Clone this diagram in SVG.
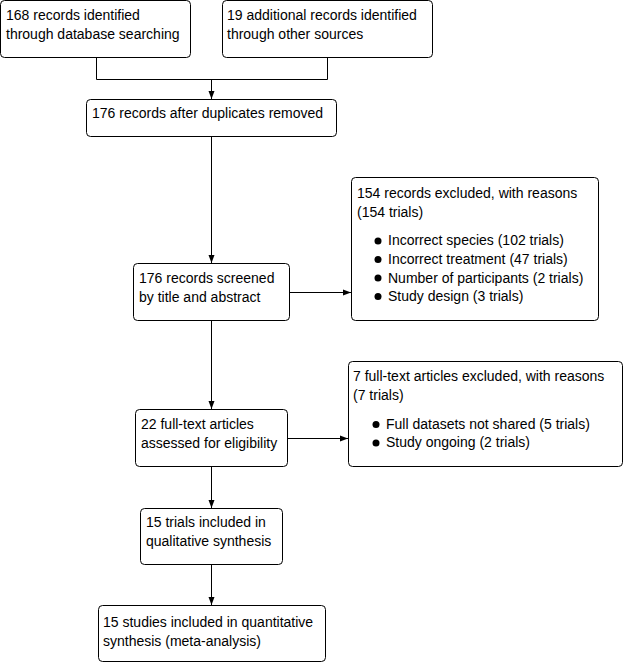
<svg xmlns="http://www.w3.org/2000/svg" width="625" height="663" viewBox="0 0 625 663">
<defs>
<marker id="arr" viewBox="0 0 8 8" refX="8" refY="4" markerWidth="8" markerHeight="8" markerUnits="userSpaceOnUse" orient="auto">
<path d="M0,1 L8,4 L0,7 Z" fill="#000"/>
</marker>
<style>
.box{fill:#fff;stroke:#000;stroke-width:1}
.t{font-family:"Liberation Sans",Arial,sans-serif;font-size:14px;fill:#000}
.c{fill:none;stroke:#000;stroke-width:1}
.b{fill:#000}
</style>
</defs>
<rect width="625" height="663" fill="#fff"/>
<g id="connectors">
<path class="c" d="M96.5,57 V79.5 H327.5 V57"/>
<path class="c" d="M211.5,79.5 V99" marker-end="url(#arr)"/>
<path class="c" d="M211.5,136 V263" marker-end="url(#arr)"/>
<path class="c" d="M289,292.5 H351" marker-end="url(#arr)"/>
<path class="c" d="M211.5,320 V409" marker-end="url(#arr)"/>
<path class="c" d="M287,438.5 H348" marker-end="url(#arr)"/>
<path class="c" d="M211.5,466 V508" marker-end="url(#arr)"/>
<path class="c" d="M211.5,564 V605" marker-end="url(#arr)"/>
</g>
<g id="n1">
<rect class="box" x="0.5" y="0.5" width="190" height="57" rx="4"/>
<text class="t" x="6" y="20">168 records identified</text>
<text class="t" x="6" y="39">through database searching</text>
</g>
<g id="n2">
<rect class="box" x="222.5" y="0.5" width="210" height="57" rx="4"/>
<text class="t" x="227" y="20">19 additional records identified</text>
<text class="t" x="227" y="39">through other sources</text>
</g>
<g id="n3">
<rect class="box" x="86.5" y="99.5" width="250" height="37" rx="4"/>
<text class="t" x="92" y="118">176 records after duplicates removed</text>
</g>
<g id="n4">
<rect class="box" x="133.5" y="263.5" width="156" height="57" rx="4"/>
<text class="t" x="139" y="283">176 records screened</text>
<text class="t" x="139" y="302">by title and abstract</text>
</g>
<g id="n5">
<rect class="box" x="351.5" y="177.5" width="247" height="143" rx="4"/>
<text class="t" x="357" y="198">154 records excluded, with reasons</text>
<text class="t" x="357" y="217">(154 trials)</text>
<circle class="b" cx="378" cy="241" r="3.5"/>
<text class="t" x="388" y="245">Incorrect species (102 trials)</text>
<circle class="b" cx="378" cy="259.5" r="3.5"/>
<text class="t" x="388" y="264">Incorrect treatment (47 trials)</text>
<circle class="b" cx="378" cy="278" r="3.5"/>
<text class="t" x="388" y="283">Number of participants (2 trials)</text>
<circle class="b" cx="378" cy="296.5" r="3.5"/>
<text class="t" x="388" y="301">Study design (3 trials)</text>
</g>
<g id="n6">
<rect class="box" x="348.5" y="361.5" width="274" height="105" rx="4"/>
<text class="t" x="353" y="381">7 full-text articles excluded, with reasons</text>
<text class="t" x="353" y="400">(7 trials)</text>
<circle class="b" cx="376" cy="424.5" r="3.5"/>
<text class="t" x="386" y="429">Full datasets not shared (5 trials)</text>
<circle class="b" cx="376" cy="443" r="3.5"/>
<text class="t" x="386" y="447">Study ongoing (2 trials)</text>
</g>
<g id="n7">
<rect class="box" x="135.5" y="409.5" width="152" height="57" rx="4"/>
<text class="t" x="141" y="429">22 full-text articles</text>
<text class="t" x="141" y="448">assessed for eligibility</text>
</g>
<g id="n8">
<rect class="box" x="140.5" y="508.5" width="142" height="56" rx="4"/>
<text class="t" x="146" y="527">15 trials included in</text>
<text class="t" x="146" y="546">qualitative synthesis</text>
</g>
<g id="n9">
<rect class="box" x="98.5" y="605.5" width="227" height="56" rx="4"/>
<text class="t" x="103" y="627">15 studies included in quantitative</text>
<text class="t" x="103" y="646">synthesis (meta-analysis)</text>
</g>
</svg>
